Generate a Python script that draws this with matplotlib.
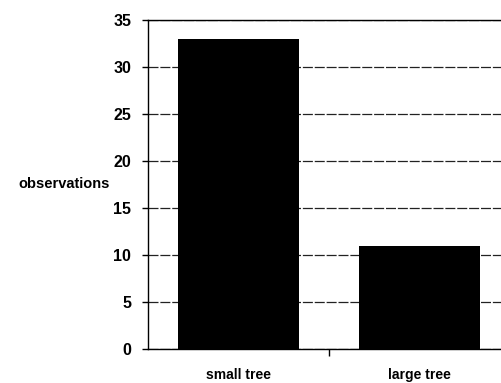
import numpy as np
import matplotlib
matplotlib.use("Agg")
import matplotlib.pyplot as plt

categories = ["small tree", "large tree"]
observations = [33, 11]
yticks = [0, 5, 10, 15, 20, 25, 30, 35]

plt.rcParams['font.family'] = ['Liberation Sans', 'DejaVu Sans']
plt.rcParams['font.weight'] = 'bold'

fig = plt.figure(figsize=(5.02, 3.83), dpi=100)
# axes runs a little past the right edge, like the scanned original
ax = fig.add_axes([148/502, 34/383, 362/502, 329/383])

x = np.arange(len(categories)) + 0.5
ax.bar(x, observations, width=0.67, color='black', zorder=3)

ax.set_xlim(0, 2)
ax.set_ylim(0, 35)
ax.set_yticks(yticks)
ax.set_yticklabels([str(v) for v in yticks], fontsize=11.5, fontweight='bold')
ax.tick_params(axis='y', direction='out', length=4, width=1, pad=8)

# separator tick between categories, labels centred under bars
ax.set_xticks([1])
ax.set_xticklabels([''])
ax.set_xticks(x, minor=True)
ax.set_xticklabels(categories, minor=True, fontsize=10, fontweight='bold')
ax.tick_params(axis='x', which='major', direction='out', length=5, width=1)
ax.tick_params(axis='x', which='minor', length=0, pad=14)

ax.grid(axis='y', color='#222222', linewidth=0.9, linestyle=(0, (8, 1.5)), zorder=1)

for s in ['left', 'bottom', 'top']:
    ax.spines[s].set_linewidth(1)
    ax.spines[s].set_color('black')
ax.spines['right'].set_visible(False)

ax.set_ylabel('observations', rotation=0, fontsize=10.5, fontweight='bold',
              ha='right', va='center')
ax.yaxis.set_label_coords(-0.105, 0.5)

fig.savefig('out.png', dpi=100)
